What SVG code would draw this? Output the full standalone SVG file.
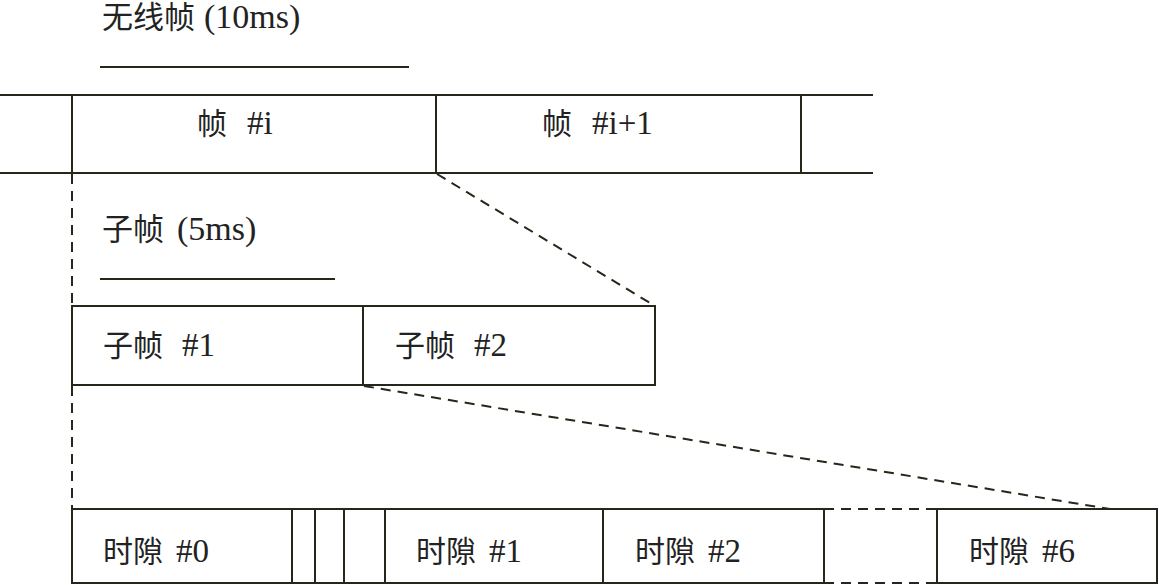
<svg xmlns="http://www.w3.org/2000/svg" width="1159" height="585" viewBox="0 0 1159 585">
<style>
.ln{stroke:#26261a;stroke-width:2;fill:none}
.ds{stroke:#26261a;stroke-width:2;fill:none;stroke-dasharray:10 7}
.bx{stroke:#26261a;stroke-width:2;fill:#fff}
text{font-family:"Liberation Serif","Noto Sans CJK SC",serif;font-size:30px;fill:#222}
.t{font-size:31px}
.l{font-size:33px}
.lt{font-size:34px}
</style>
<rect width="1159" height="585" fill="#fff"/>
<g id="connectors">
<line class="ds" x1="72" y1="174" x2="72" y2="306"/>
<line class="ds" x1="72" y1="386" x2="72" y2="509"/>
<line class="ds" x1="437" y1="174" x2="655" y2="306"/>
<line class="ds" x1="364" y1="386" x2="1110" y2="509"/>
</g>
<g id="title-frame">
<text class="t" x="102" y="28">无线帧<tspan class="lt" x="204">(10ms)</tspan></text>
<line class="ln" x1="100" y1="67" x2="409" y2="67"/>
</g>
<g id="frame-row">
<line class="ln" x1="0" y1="95" x2="873" y2="95"/>
<line class="ln" x1="0" y1="173" x2="873" y2="173"/>
<line class="ln" x1="72" y1="95" x2="72" y2="173"/>
<line class="ln" x1="436" y1="95" x2="436" y2="173"/>
<line class="ln" x1="801" y1="95" x2="801" y2="173"/>
</g>
<g id="frame-i"><text x="197" y="134">帧<tspan class="l" x="247">#i</tspan></text></g>
<g id="frame-i1"><text x="542" y="134">帧<tspan class="l" x="592">#i+1</tspan></text></g>
<g id="title-subframe">
<text class="t" x="102" y="240">子帧<tspan class="lt" x="177">(5ms)</tspan></text>
<line class="ln" x1="100" y1="279" x2="335" y2="279"/>
</g>
<g id="subframe-1">
<rect class="bx" x="72" y="306" width="291" height="79"/>
<text x="103" y="356">子帧<tspan class="l" x="182">#1</tspan></text>
</g>
<g id="subframe-2">
<rect class="bx" x="363" y="306" width="292" height="79"/>
<text x="395" y="356">子帧<tspan class="l" x="474">#2</tspan></text>
</g>
<g id="slot-0">
<rect class="bx" x="72" y="509" width="220" height="74"/>
<text x="103" y="562">时隙<tspan class="l" x="176">#0</tspan></text>
</g>
<g id="special-slots">
<rect class="bx" x="292" y="509" width="23" height="74"/>
<rect class="bx" x="315" y="509" width="29" height="74"/>
<rect class="bx" x="344" y="509" width="41" height="74"/>
</g>
<g id="slot-1">
<rect class="bx" x="385" y="509" width="218" height="74"/>
<text x="416" y="562">时隙<tspan class="l" x="489">#1</tspan></text>
</g>
<g id="slot-2">
<rect class="bx" x="603" y="509" width="221" height="74"/>
<text x="635" y="562">时隙<tspan class="l" x="708">#2</tspan></text>
</g>
<g id="gap">
<line class="ds" x1="824" y1="509" x2="937" y2="509"/>
<line class="ds" x1="824" y1="583" x2="937" y2="583"/>
</g>
<g id="slot-6">
<rect class="bx" x="937" y="509" width="220" height="74"/>
<text x="969" y="562">时隙<tspan class="l" x="1042">#6</tspan></text>
</g>
</svg>
